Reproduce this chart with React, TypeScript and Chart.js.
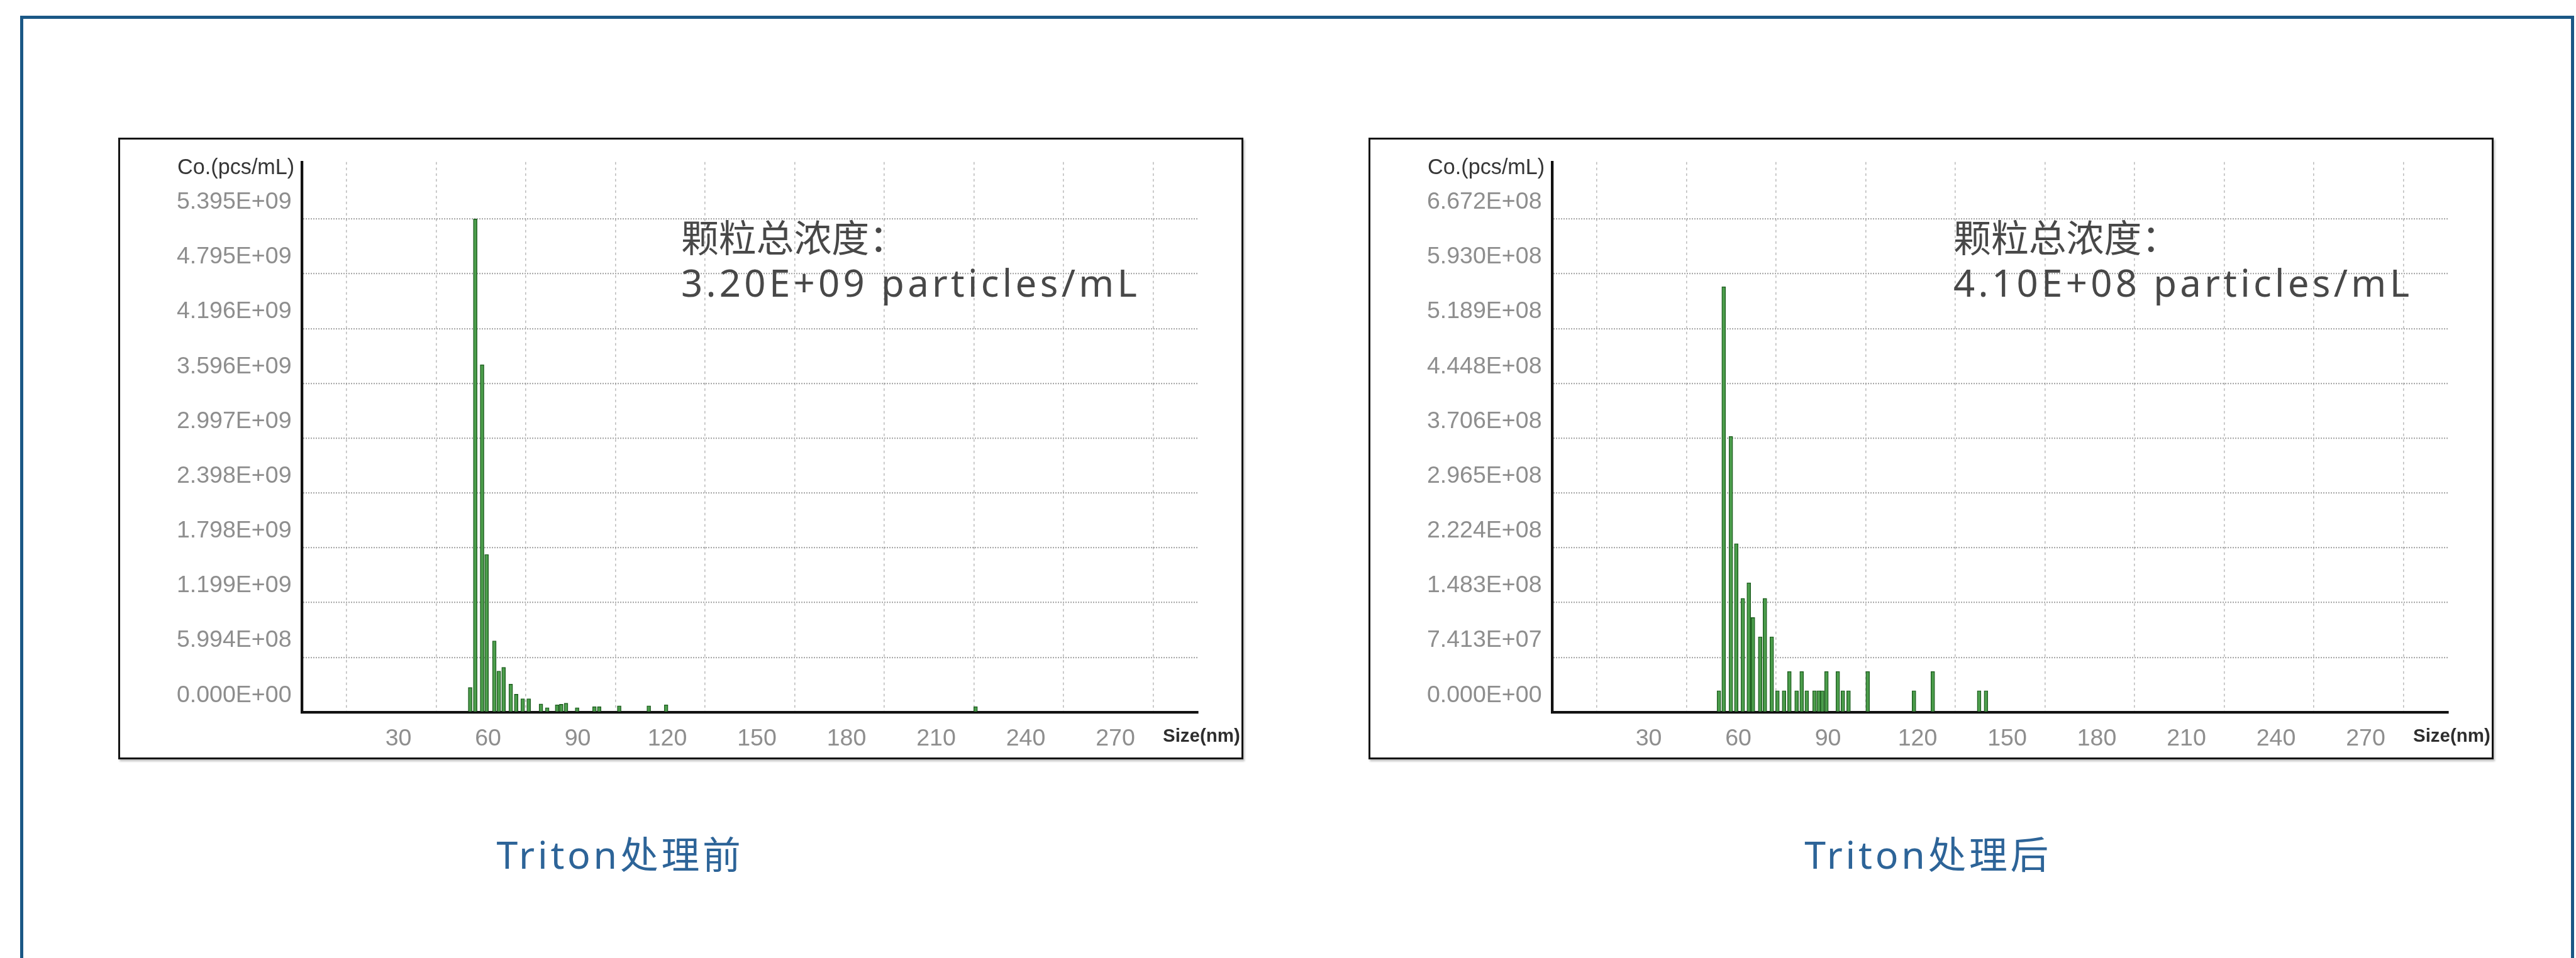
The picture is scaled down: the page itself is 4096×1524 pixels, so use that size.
import React, { useEffect, useRef } from 'react';
import { Chart, registerables } from 'chart.js';

Chart.register(...registerables);

// ---- data -------------------------------------------------------------
// particle size bins (nm) and concentration (pcs/mL), before Triton treatment
const beforeSizes = [56.4, 58.1, 60.4, 61.9, 64.5, 66.0, 67.6, 70.0, 71.8, 74.0, 76.0, 80.1, 82.2, 85.5, 86.9, 88.5, 92.2, 98.0, 99.6, 106.3, 116.2, 122.0, 225.6];
const beforeConc = [2.7e8, 5.395e9, 3.8e9, 1.725e9, 7.8e8, 4.5e8, 4.9e8, 3.06e8, 1.96e8, 1.47e8, 1.47e8, 9.0e7, 4.9e7, 8.0e7, 8.6e7, 9.8e7, 4.9e7, 6.0e7, 6.0e7, 7.0e7, 7.0e7, 8.0e7, 6.0e7];

// after Triton treatment
const afterSizes = [55.9, 57.5, 59.9, 61.7, 63.9, 65.9, 67.3, 69.7, 71.3, 73.6, 75.5, 77.7, 79.5, 81.9, 83.6, 85.3, 87.9, 89.3, 90.5, 91.9, 95.7, 97.4, 99.3, 105.7, 121.2, 127.5, 143.0, 145.3];
const afterConc = [2.9e7, 5.755e8, 3.73e8, 2.28e8, 1.54e8, 1.75e8, 1.28e8, 1.02e8, 1.54e8, 1.02e8, 2.9e7, 2.9e7, 5.5e7, 2.9e7, 5.5e7, 2.9e7, 2.9e7, 2.9e7, 2.9e7, 5.5e7, 5.5e7, 2.9e7, 2.9e7, 5.5e7, 2.9e7, 5.5e7, 2.9e7, 2.9e7];

// concentration axis ticks
const beforeYTicks = [0, 5.994e8, 1.199e9, 1.798e9, 2.398e9, 2.997e9, 3.596e9, 4.196e9, 4.795e9, 5.395e9];
const afterYTicks = [0, 7.413e7, 1.483e8, 2.224e8, 2.965e8, 3.706e8, 4.448e8, 5.189e8, 5.930e8, 6.672e8];

// size axis
const sizeTicks = [30, 60, 90, 120, 150, 180, 210, 240, 270];
const sizeMin = 0;
const sizeMax = 300;

const noteHeading = '颗粒总浓度：';
const beforeTotal = '3.20E+09 particles/mL';
const afterTotal = '4.10E+08 particles/mL';
const beforeTitle = 'Triton处理前';
const afterTitle = 'Triton处理后';
const yCaption = 'Co.(pcs/mL)';
const xCaption = 'Size(nm)';

// ---- layout -------------------------------------------------------------
const S = 0.95;
const BOX_W = Math.round(1883 * S);
const BOX_H = Math.round(1041 * S);
const PLOT_LEFT = 307 * S;
const PLOT_TOP = 28 * S;
const PLOT_RIGHT = 1807 * S;
const PLOT_BOTTOM = 962 * S;

const sci = (v: number) => {
  const [m, e] = v.toExponential(3).split('e');
  const sign = e.startsWith('-') ? '-' : '+';
  const d = e.replace(/^[+-]/, '').padStart(2, '0');
  return `${m}E${sign}${d}`;
};

const panelText = {
  id: 'panelText',
  afterDraw(chart: any, _args: any, opts: any) {
    const { ctx, chartArea } = chart;
    ctx.save();
    // concentration axis caption
    ctx.fillStyle = '#363636';
    ctx.font = `${36 * S}px "Liberation Sans", Arial, sans-serif`;
    ctx.textAlign = 'right';
    ctx.textBaseline = 'middle';
    ctx.fillText(yCaption, chartArea.left - 12 * S, chartArea.top + 10 * S);
    // size axis caption
    ctx.fillStyle = '#2e2e2e';
    ctx.font = `bold ${31 * S}px "Liberation Sans", Arial, sans-serif`;
    ctx.textAlign = 'center';
    ctx.fillText(xCaption, chartArea.right + 6 * S, chartArea.bottom + 41 * S);
    // total concentration note
    const nx = chartArea.left + opts.noteX * S;
    ctx.fillStyle = '#484848';
    ctx.textAlign = 'left';
    ctx.font = `${63 * S}px "Noto Sans", "Noto Sans CJK SC", sans-serif`;
    ctx.textBaseline = 'middle';
    ctx.fillText(noteHeading, nx, chartArea.top + 133 * S);
    ctx.textBaseline = 'alphabetic';
    (ctx as any).letterSpacing = `${5.6 * S}px`;
    ctx.fillText(opts.total, nx, chartArea.top + 226 * S);
    (ctx as any).letterSpacing = '0px';
    ctx.restore();
  },
};

type PanelProps = {
  sizes: number[];
  conc: number[];
  yTicks: number[];
  total: string;
  noteX: number;
  left: number;
  top: number;
};

function SizePanel({ sizes, conc, yTicks, total, noteX, left, top }: PanelProps) {
  const ref = useRef<HTMLCanvasElement>(null);

  useEffect(() => {
    const step = yTicks[1];
    const yMax = yTicks[yTicks.length - 1] + step * 1.04;
    const tickFont = { family: '"Liberation Sans", Arial, sans-serif', size: 39.5 * S };
    const chart = new Chart(ref.current as HTMLCanvasElement, {
      type: 'bar',
      data: {
        datasets: [
          {
            data: sizes.map((x, i) => ({ x, y: conc[i] })),
            backgroundColor: '#4c9e4c',
            borderColor: '#1c5c1e',
            borderWidth: 1.4,
            borderSkipped: 'bottom',
            barThickness: 6,
          } as any,
        ],
      },
      options: {
        responsive: false,
        maintainAspectRatio: false,
        animation: false,
        devicePixelRatio: 1,
        layout: { padding: { left: 0, top: PLOT_TOP, right: BOX_W - PLOT_RIGHT, bottom: 0 } },
        plugins: {
          legend: { display: false },
          tooltip: { enabled: false },
          panelText: { total, noteX },
        } as any,
        scales: {
          x: {
            type: 'linear',
            min: sizeMin,
            max: sizeMax,
            offset: false,
            afterBuildTicks: (s: any) => {
              s.ticks = sizeTicks.map((v) => ({ value: v }));
            },
            afterFit: (s: any) => {
              s.height = BOX_H - PLOT_BOTTOM;
            },
            ticks: {
              autoSkip: false,
              maxRotation: 0,
              minRotation: 0,
              padding: 21 * S,
              labelOffset: 12 * S,
              color: '#8e8e8e',
              font: tickFont,
              callback: (v: any) => String(v),
            },
            grid: { drawTicks: false, color: '#bdbdbd', lineWidth: 1.6 },
            border: { display: true, color: '#111111', width: 4.5 * S, dash: [4, 5] },
          },
          y: {
            type: 'linear',
            min: 0,
            max: yMax,
            afterBuildTicks: (s: any) => {
              s.ticks = yTicks.map((v) => ({ value: v }));
            },
            afterFit: (s: any) => {
              s.width = PLOT_LEFT;
            },
            ticks: {
              padding: 17 * S,
              labelOffset: -28 * S,
              color: '#8e8e8e',
              font: tickFont,
              callback: (v: any) => sci(Number(v)),
            },
            grid: { drawTicks: false, color: '#909090', lineWidth: 2.2 },
            border: { display: true, color: '#111111', width: 4.5 * S, dash: [1.5, 2.5] },
          },
        } as any,
      },
      plugins: [panelText],
    });
    return () => chart.destroy();
  }, [sizes, conc, yTicks, total, noteX]);

  return (
    <div
      style={{
        position: 'absolute',
        left,
        top,
        width: BOX_W,
        height: BOX_H,
        background: '#fff',
        boxShadow: '2px 3px 3px rgba(0,0,0,0.25)',
      }}
    >
      <canvas
        ref={ref}
        width={BOX_W}
        height={BOX_H}
        style={{ position: 'absolute', left: 0, top: 0, width: BOX_W, height: BOX_H }}
      />
      <div
        style={{
          position: 'absolute',
          inset: 0,
          border: `${3.8 * S}px solid #141414`,
          boxSizing: 'border-box',
          pointerEvents: 'none',
        }}
      />
    </div>
  );
}

const titleStyle = (cx: number): React.CSSProperties => ({
  position: 'absolute',
  left: cx,
  top: 1431 * S,
  transform: 'translate(-50%, -50%)',
  fontFamily: '"Noto Sans", "Noto Sans CJK SC", sans-serif',
  fontSize: 64 * S,
  letterSpacing: 5 * S,
  lineHeight: 1,
  color: '#2d6498',
  whiteSpace: 'nowrap',
});

export default function App() {
  return (
    <div
      style={{
        position: 'absolute',
        left: 0,
        top: 0,
        width: 4096,
        height: 1524,
        overflow: 'hidden',
        background: '#ffffff',
      }}
    >
      <div
        style={{
          position: 'absolute',
          left: 32,
          top: 25,
          width: 4093 - 32,
          height: 1700,
          borderTop: `${6 * S}px solid #1b5886`,
          borderLeft: `${6 * S}px solid #1b5886`,
          borderRight: `${6 * S}px solid #1b5886`,
          boxSizing: 'border-box',
        }}
      />
      <SizePanel
        sizes={beforeSizes}
        conc={beforeConc}
        yTicks={beforeYTicks}
        total={beforeTotal}
        noteX={635}
        left={198 * S}
        top={230 * S}
      />
      <SizePanel
        sizes={afterSizes}
        conc={afterConc}
        yTicks={afterYTicks}
        total={afterTotal}
        noteX={672}
        left={2291 * S}
        top={230 * S}
      />
      <div style={titleStyle(1038 * S)}>{beforeTitle}</div>
      <div style={titleStyle(3227 * S)}>{afterTitle}</div>
    </div>
  );
}
